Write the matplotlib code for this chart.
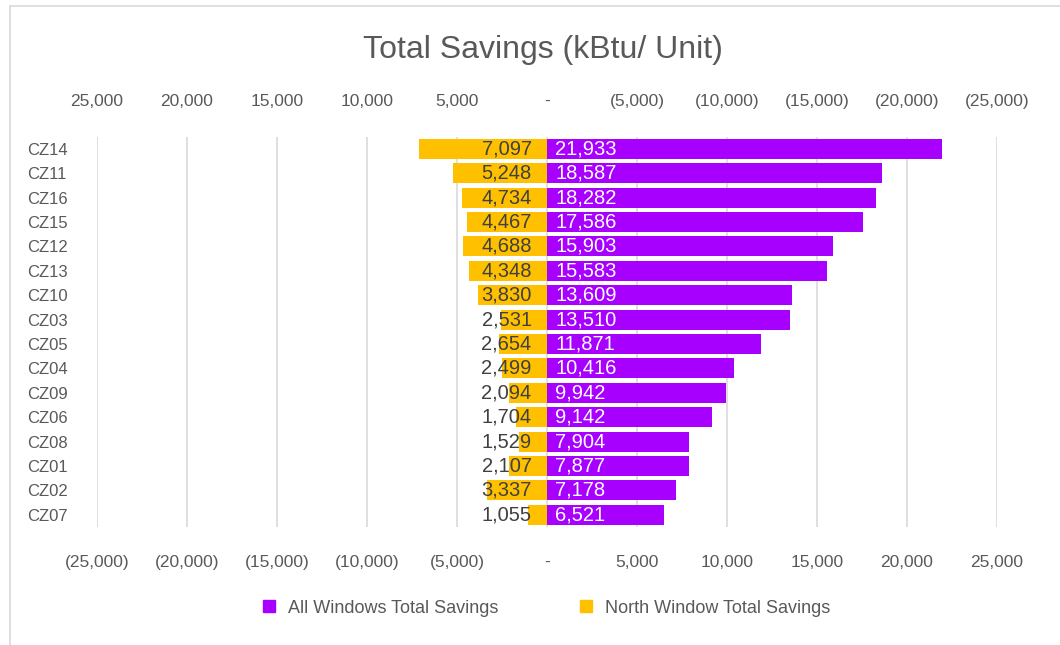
import numpy as np
import matplotlib.pyplot as plt
from matplotlib.lines import Line2D
from matplotlib.ticker import FuncFormatter

zones = ['CZ14', 'CZ11', 'CZ16', 'CZ15', 'CZ12', 'CZ13', 'CZ10', 'CZ03',
         'CZ05', 'CZ04', 'CZ09', 'CZ06', 'CZ08', 'CZ01', 'CZ02', 'CZ07']
all_windows = [21933, 18587, 18282, 17586, 15903, 15583, 13609, 13510,
               11871, 10416, 9942, 9142, 7904, 7877, 7178, 6521]
north_window = [7097, 5248, 4734, 4467, 4688, 4348, 3830, 2531,
                2654, 2499, 2094, 1704, 1529, 2107, 3337, 1055]
ticks = [-25000, -20000, -15000, -10000, -5000, 0, 5000, 10000, 15000, 20000, 25000]

PURPLE = '#A800FF'
GOLD = '#FFC000'
GRAY = '#595959'

plt.rcParams['font.family'] = ['Liberation Sans', 'DejaVu Sans']


def acct(v, pos=None):
    if v == 0:
        return '-'
    if v < 0:
        return '({:,.0f})'.format(-v)
    return '{:,.0f}'.format(v)


fig = plt.figure(figsize=(10.6, 6.45), dpi=100)
ax = fig.add_axes([0.0915, 0.183, 0.849, 0.605])
y = np.arange(len(zones))

# primary axis: all windows (purple)
ax.barh(y, all_windows, height=0.82, color=PURPLE, zorder=3)
ax.set_xlim(-25000, 25000)
ax.set_ylim(len(zones) - 0.5, -0.5)
ax.set_xticks(ticks)
ax.xaxis.set_major_formatter(FuncFormatter(acct))
ax.set_yticks(y)
ax.set_yticklabels(zones)
ax.grid(axis='x', color='#D9D9D9', linewidth=1.2, zorder=0)
ax.tick_params(axis='x', length=0, pad=20, labelsize=12.5, colors=GRAY)
ax.tick_params(axis='y', length=0, pad=50, labelsize=12, colors=GRAY)
for lbl in ax.get_yticklabels():
    lbl.set_ha('left')
for s in ax.spines.values():
    s.set_visible(False)

# secondary axis: north window (gold), reversed
ax2 = ax.twiny()
ax2.barh(y, north_window, height=0.82, color=GOLD, zorder=3)
ax2.set_xlim(25000, -25000)
ax2.set_xticks(ticks)
ax2.xaxis.set_major_formatter(FuncFormatter(acct))
ax2.tick_params(axis='x', length=0, pad=20, labelsize=12.5, colors=GRAY)
for s in ax2.spines.values():
    s.set_visible(False)

# data labels
for yi, v in zip(y, all_windows):
    ax.annotate('{:,}'.format(v), (0, yi), xytext=(6, 0), textcoords='offset points',
                ha='left', va='center', color='white', fontsize=14.5, zorder=5)
for yi, v in zip(y, north_window):
    ax2.annotate('{:,}'.format(v), (0, yi), xytext=(-11, 0), textcoords='offset points',
                 ha='right', va='center', color='#404040', fontsize=14.5, zorder=5)

fig.text(0.512, 0.922, 'Total Savings (kBtu/ Unit)', ha='center', va='center',
         fontsize=23, color=GRAY)

handles = [Line2D([], [], marker='s', linestyle='none', color=PURPLE, markersize=9),
           Line2D([], [], marker='s', linestyle='none', color=GOLD, markersize=9)]
fig.legend(handles, ['All Windows Total Savings', 'North Window Total Savings'],
           loc='center', bbox_to_anchor=(0.51, 0.057), ncol=2, frameon=False,
           fontsize=13, labelcolor=GRAY, handletextpad=0.1, columnspacing=3.8)

# chart border
fig.add_artist(Line2D([0.009, 0.009], [0.0, 0.99], color='#D9D9D9', linewidth=1.2))
fig.add_artist(Line2D([0.009, 1.0], [0.99, 0.99], color='#D9D9D9', linewidth=1.2))

plt.savefig('out.png', dpi=100)
